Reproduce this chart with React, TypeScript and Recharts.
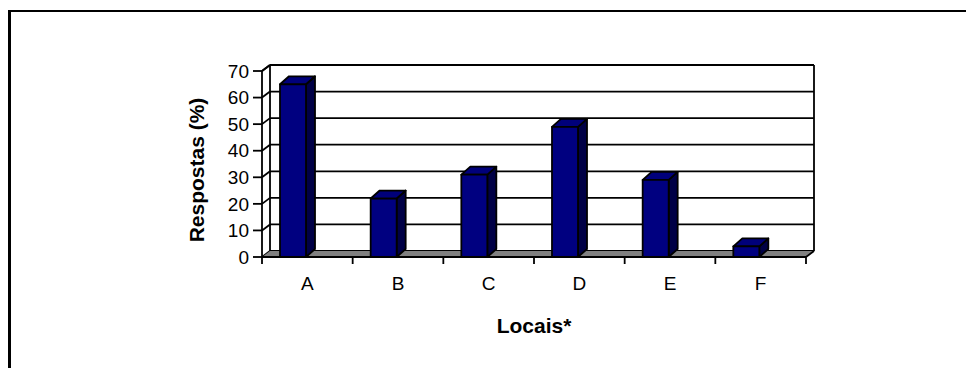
import React from 'react';
import { BarChart, Bar, XAxis, YAxis, CartesianGrid, Label } from 'recharts';

const locais = ['A', 'B', 'C', 'D', 'E', 'F'];
const respostas = [65, 22, 31, 49, 29, 4];
const valueTicks = [0, 10, 20, 30, 40, 50, 60, 70];

const data = locais.map((local, i) => ({ local, respostas: respostas[i] }));

const FONT = '"Liberation Sans", Arial, Helvetica, sans-serif';

// depth of the back wall / floor
const WALL_DX = 8;
const WALL_DY = -6;
// depth of each column
const BAR_DX = 9;
const BAR_DY = -8;
const BAR_SHIFT = -14;
const XAXIS_H = 60;
const EDGE = 1.8;

const Box3D = (props: any) => {
  const { x, y, width, height } = props;
  if (height == null || isNaN(height)) return null;
  const l = x + BAR_SHIFT;
  const r = l + width;
  const b = y + height;
  return (
    <g stroke="#000" strokeWidth={EDGE} strokeLinejoin="round">
      <polygon
        points={`${r},${y} ${r + BAR_DX},${y + BAR_DY} ${r + BAR_DX},${b + BAR_DY} ${r},${b}`}
        fill="#000046"
      />
      <polygon
        points={`${l},${y} ${l + BAR_DX},${y + BAR_DY} ${r + BAR_DX},${y + BAR_DY} ${r},${y}`}
        fill="#00007a"
      />
      <rect x={l} y={y} width={width} height={height} fill="#000080" />
    </g>
  );
};

const wallLine = (props: any) => {
  const { x1, x2, y1, index, x, y, width, height } = props;
  let frame = null;
  if (index === 0 && y != null && height != null) {
    const bottom = y + height;
    const left = x;
    const right = x + width;
    frame = (
      <g stroke="#000" strokeWidth={EDGE}>
        <polygon
          points={`${left},${bottom} ${left + WALL_DX},${bottom + WALL_DY} ${right + WALL_DX},${bottom + WALL_DY} ${right},${bottom}`}
          fill="#808080"
          stroke="none"
        />
        <line x1={right} y1={bottom} x2={right + WALL_DX} y2={bottom + WALL_DY} />
        <line x1={left + WALL_DX} y1={y + WALL_DY} x2={left + WALL_DX} y2={bottom + WALL_DY} />
        <line x1={right + WALL_DX} y1={y + WALL_DY} x2={right + WALL_DX} y2={bottom + WALL_DY} />
        <line x1={left} y1={y} x2={left + WALL_DX} y2={y + WALL_DY} />
        <line x1={left + WALL_DX} y1={y + WALL_DY} x2={right + WALL_DX} y2={y + WALL_DY} />
      </g>
    );
  }
  return (
    <g key={props.key} stroke="#000" strokeWidth={EDGE}>
      <line x1={x1} y1={y1} x2={x1 + WALL_DX} y2={y1 + WALL_DY} />
      <line x1={x1 + WALL_DX} y1={y1 + WALL_DY} x2={x2 + WALL_DX} y2={y1 + WALL_DY} />
      {frame}
    </g>
  );
};

const LocalTick = (props: any) => {
  const { x, y, payload, index } = props;
  const half = payload?.offset ?? 0;
  return (
    <g>
      <line x1={x - half} y1={y - 6} x2={x - half} y2={y + 1} stroke="#000" strokeWidth={EDGE} />
      {index === locais.length - 1 && (
        <line x1={x + half} y1={y - 6} x2={x + half} y2={y + 1} stroke="#000" strokeWidth={EDGE} />
      )}
      <text x={x} y={y} dy={27} textAnchor="middle" fill="#000" fontSize={19} fontFamily={FONT}>
        {payload.value}
      </text>
    </g>
  );
};

const App = () => {
  return (
    <div style={{ position: 'absolute', left: 0, top: 0, width: 966, height: 368, overflow: 'hidden', background: '#fff' }}>
      <div
        style={{
          position: 'absolute',
          left: 8,
          top: 10,
          width: 1000,
          height: 500,
          borderLeft: '3px solid #000',
          borderTop: '2px solid #000',
        }}
      />
      <div style={{ position: 'absolute', left: 0, top: 0 }}>
        <BarChart
          width={966}
          height={368}
          data={data}
          margin={{ top: 71, right: 160, bottom: 368 - 257 - XAXIS_H, left: 182 }}
        >
          <CartesianGrid vertical={false} horizontal={wallLine} />
          <XAxis
            dataKey="local"
            height={XAXIS_H}
            tickSize={6}
            tickMargin={0}
            tickLine={false}
            axisLine={{ stroke: '#000', strokeWidth: 2 }}
            tick={<LocalTick />}
            interval={0}
          >
            <Label
              content={({ viewBox }: any) => (
                <text
                  x={viewBox.x + viewBox.width / 2}
                  y={viewBox.y + 76}
                  textAnchor="middle"
                  fontSize={21}
                  fontWeight="bold"
                  fontFamily={FONT}
                  fill="#000"
                >
                  Locais*
                </text>
              )}
            />
          </XAxis>
          <YAxis
            width={80}
            domain={[0, 70]}
            ticks={valueTicks}
            interval={0}
            tickSize={9}
            tickMargin={4}
            axisLine={{ stroke: '#000', strokeWidth: EDGE }}
            tickLine={{ stroke: '#000', strokeWidth: EDGE }}
            tick={{ fill: '#000', fontSize: 19, fontFamily: FONT }}
          >
            <Label
              content={({ viewBox }: any) => {
                const cx = viewBox.x + 15;
                const cy = viewBox.y + viewBox.height / 2 + 6;
                return (
                  <text
                    x={cx}
                    y={cy}
                    dy="0.35em"
                    transform={`rotate(-90, ${cx}, ${cy})`}
                    textAnchor="middle"
                    fontSize={21}
                    fontWeight="bold"
                    fontFamily={FONT}
                    fill="#000"
                  >
                    Respostas (%)
                  </text>
                );
              }}
            />
          </YAxis>
          <Bar
            dataKey="respostas"
            barSize={26}
            isAnimationActive={false}
            shape={(p: any) => <Box3D {...p} />}
          />
        </BarChart>
      </div>
    </div>
  );
};

export default App;
